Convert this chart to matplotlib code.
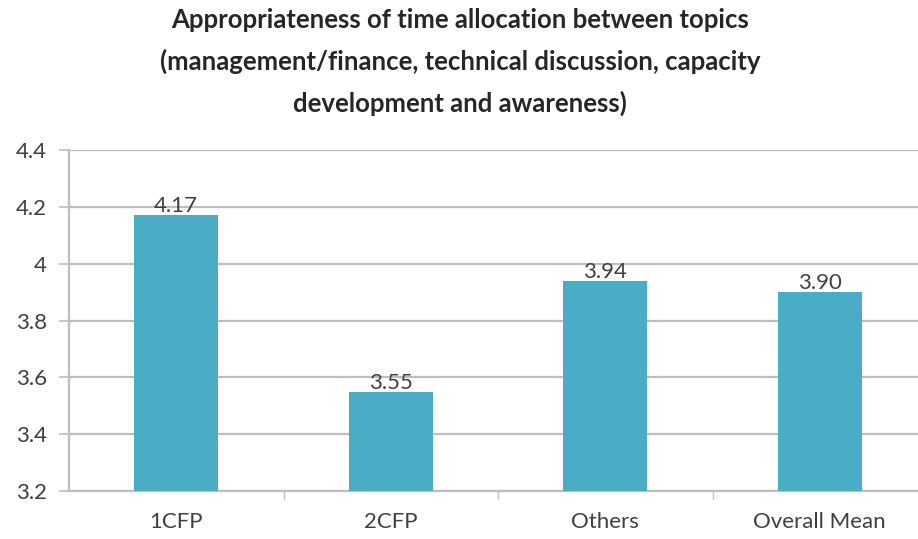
import matplotlib
matplotlib.use("Agg")
import matplotlib.pyplot as plt

categories = ["1CFP", "2CFP", "Others", "Overall Mean"]
means = [4.17, 3.55, 3.94, 3.90]
value_labels = ["4.17", "3.55", "3.94", "3.90"]
y_ticks = [3.2, 3.4, 3.6, 3.8, 4.0, 4.2, 4.4]
y_tick_labels = ["3.2", "3.4", "3.6", "3.8", "4", "4.2", "4.4"]

title = ("Appropriateness of time allocation between topics\n"
         "(management/finance, technical discussion, capacity\n"
         "development and awareness)")

plt.rcParams["font.family"] = ["Lato", "DejaVu Sans"]

W, H = 918, 539
fig = plt.figure(figsize=(W / 100, H / 100), dpi=100)
fig.patch.set_facecolor("white")

left, right = 69, 927
top, bottom = 150, 491
ax = fig.add_axes([left / W, 1 - bottom / H, (right - left) / W, (bottom - top) / H])

grid_c = "#BEBEBE"
text_c = "#404040"
x = list(range(len(categories)))
ax.bar(x, [m - 3.2 for m in means], bottom=3.2, width=0.39,
       color="#4BACC6", zorder=3)

for xi, m, lab in zip(x, means, value_labels):
    ax.text(xi, m - 0.004, lab, ha="center", va="bottom",
            fontsize=16, color=text_c, zorder=4)

ax.set_xlim(-0.5, 3.5)
ax.set_ylim(3.2, 4.4)
ax.set_yticks(y_ticks)
ax.set_yticklabels(y_tick_labels)
ax.yaxis.grid(True, color=grid_c, linewidth=1.6, zorder=0)
ax.set_axisbelow(True)

ax.set_xticks([0.5, 1.5, 2.5], minor=False)
ax.set_xticklabels([])
ax.set_xticks(x, minor=True)
ax.set_xticklabels(categories, minor=True)
ax.tick_params(axis="x", which="minor", length=0, pad=15,
               labelsize=16, labelcolor=text_c)
ax.tick_params(axis="x", which="major", length=6, width=1, color=grid_c)
ax.tick_params(axis="y", length=7, width=1.2, color=grid_c, pad=9,
               labelsize=16, labelcolor=text_c)

for s in ["top", "right"]:
    ax.spines[s].set_visible(False)
for s in ["left", "bottom"]:
    ax.spines[s].set_color(grid_c)
    ax.spines[s].set_linewidth(1.6)

fig.text(460 / W, 1 - 8 / H, title, ha="center", va="top",
         fontsize=18.5, fontweight="bold", color="#262626", linespacing=1.8)

fig.savefig("out.png", dpi=100, facecolor="white")
